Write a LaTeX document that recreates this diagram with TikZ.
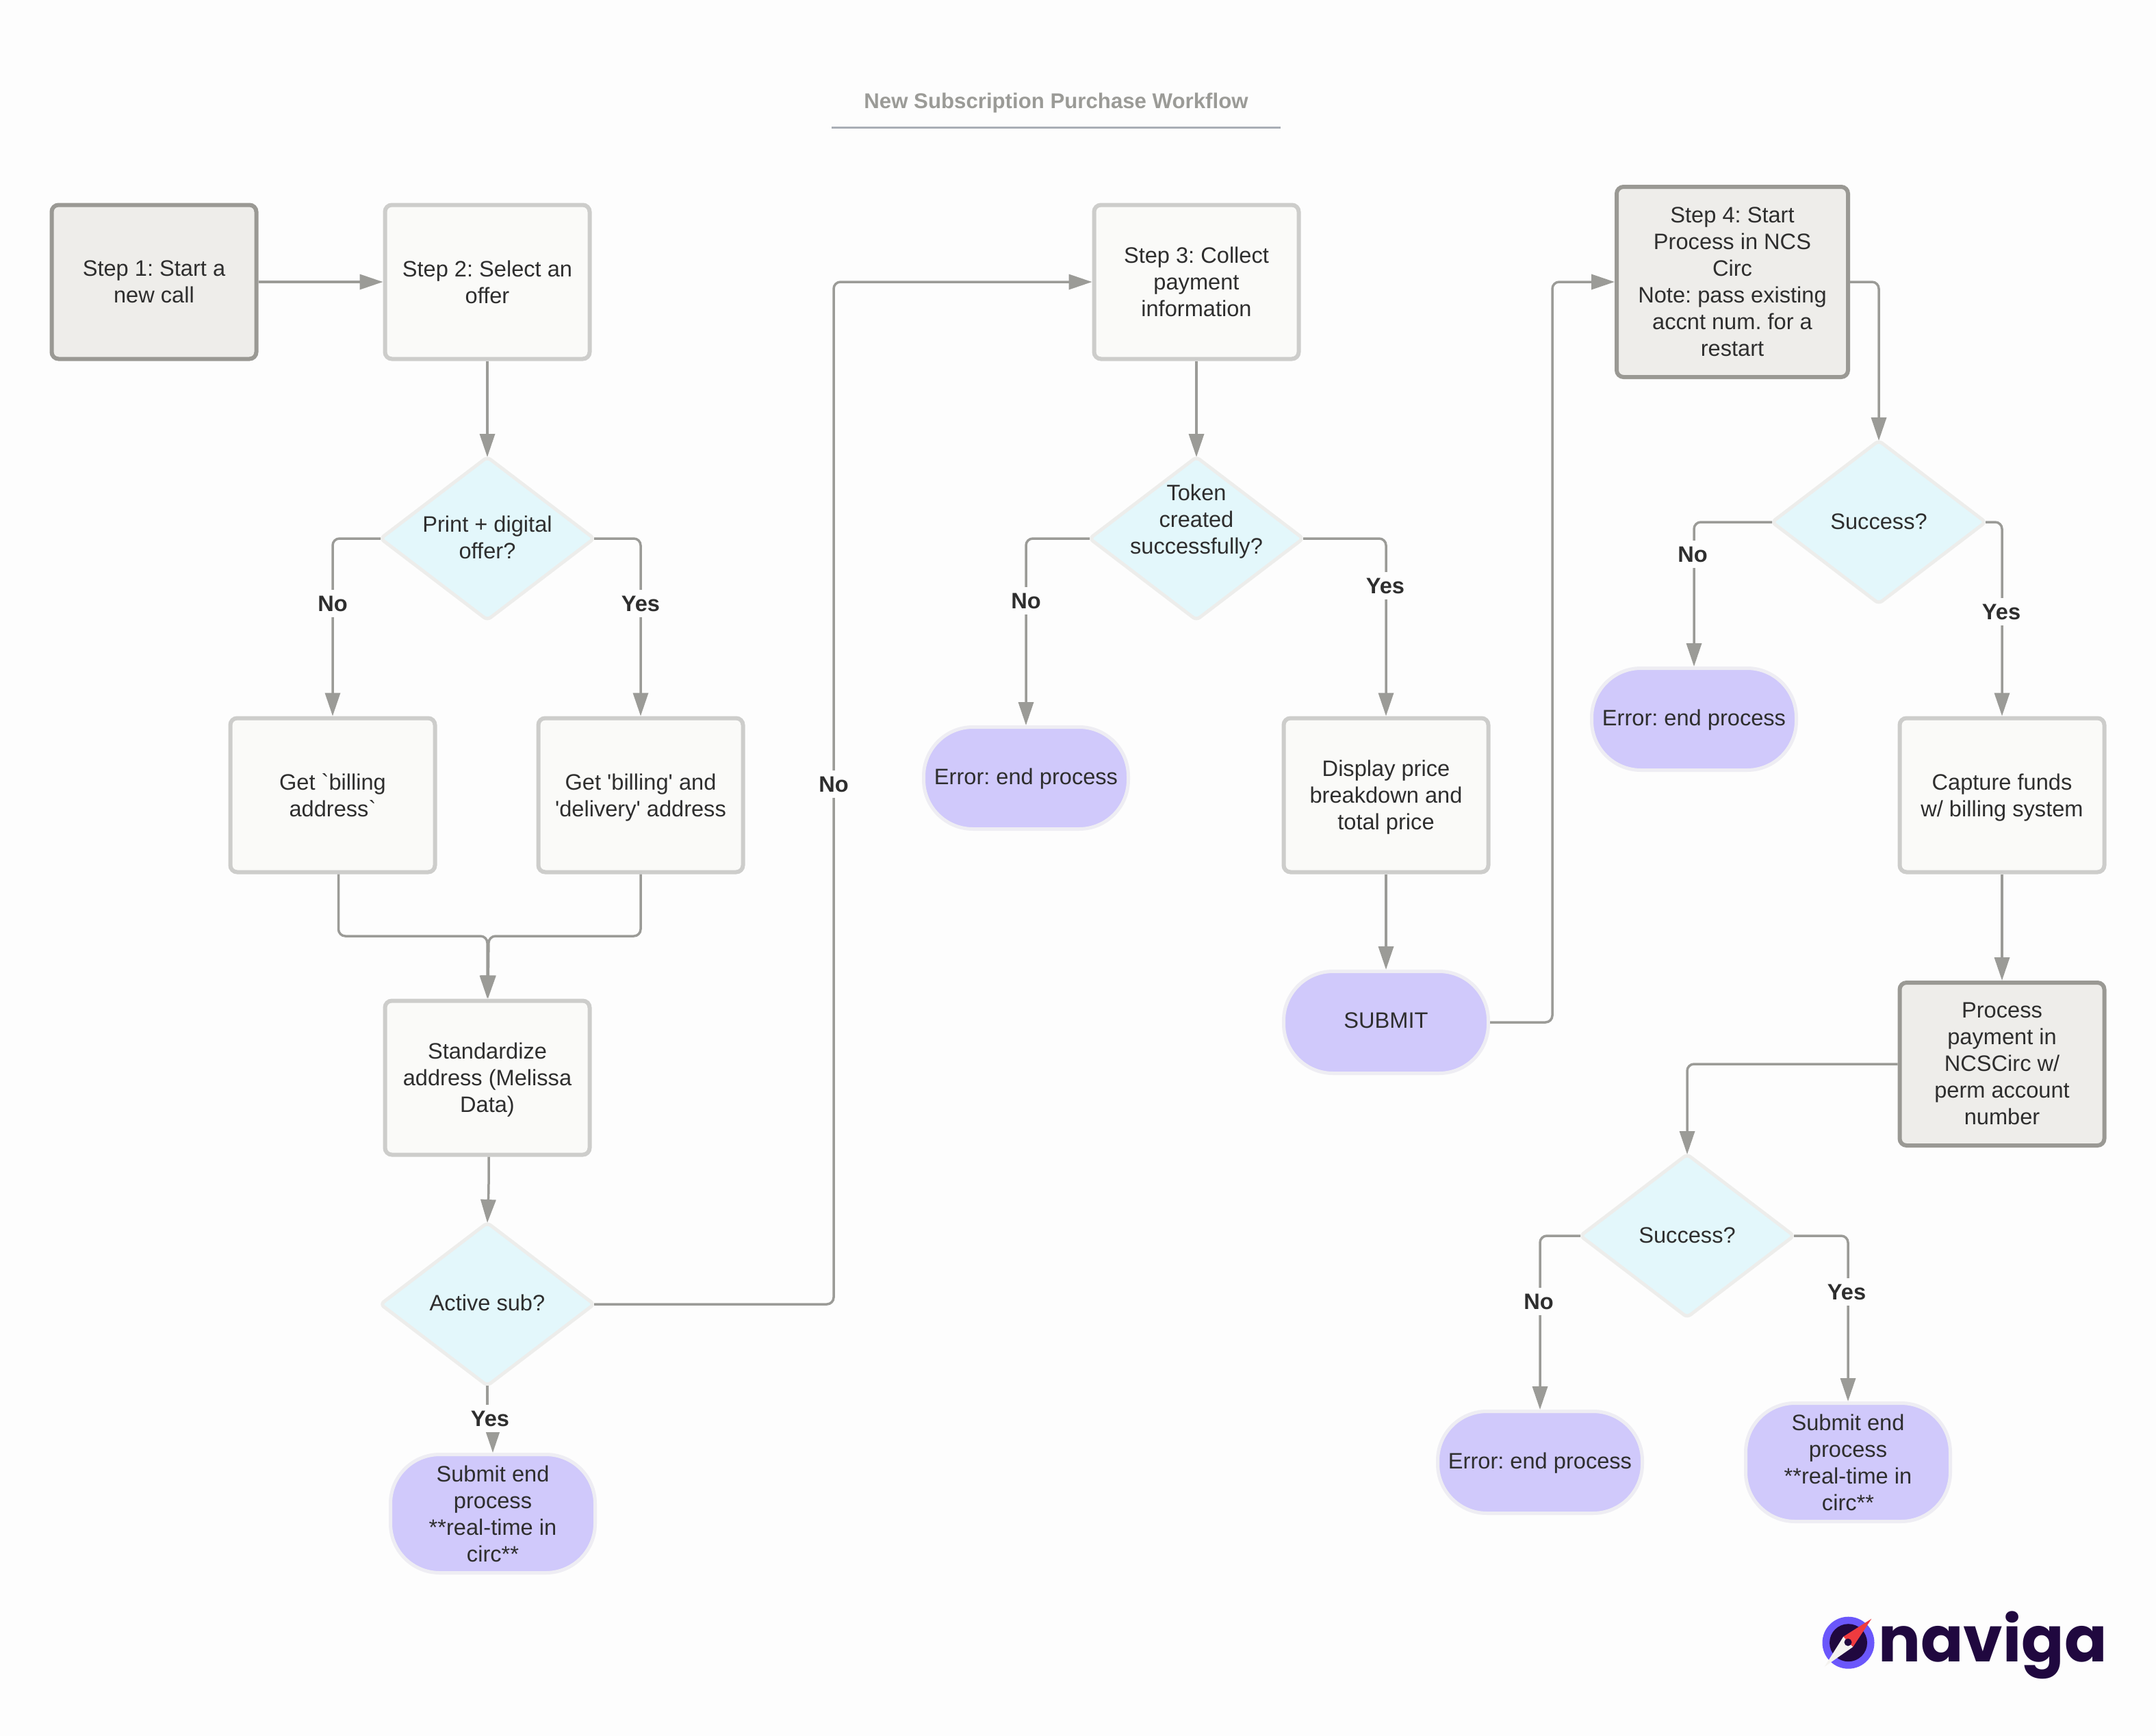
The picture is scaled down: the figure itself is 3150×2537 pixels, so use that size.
\documentclass[tikz,border=0pt]{standalone}
\usepackage{fontspec}
\usetikzlibrary{shapes.geometric,arrows.meta,calc}
\newfontfamily\wffont{Liberation Sans}
\newfontfamily\logofont{Poppins}
\definecolor{bgc}{HTML}{FDFDFD}
\definecolor{inkc}{HTML}{2E2E2E}
\definecolor{linec}{HTML}{9B9B97}
\definecolor{darkstroke}{HTML}{9A9994}
\definecolor{darkfill}{HTML}{EEEDEA}
\definecolor{lightstroke}{HTML}{CDCDCB}
\definecolor{lightfill}{HTML}{FAFAF8}
\definecolor{diastroke}{HTML}{EDEDEB}
\definecolor{diafill}{HTML}{E3F7FB}
\definecolor{pillstroke}{HTML}{EEEDF3}
\definecolor{pillfill}{HTML}{D0C9FB}
\definecolor{rulec}{HTML}{A9AEB6}
\definecolor{logodark}{HTML}{20083F}
\definecolor{logoring}{HTML}{6B57FB}
\definecolor{logored}{HTML}{EE3B3F}
\definecolor{logowhite}{HTML}{F4F3EF}
\frenchspacing
\tikzset{
  x=0.5pt,y=-0.5pt,
  txt/.style={font=\wffont\frenchspacing\fontsize{16.3}{19.5}\selectfont,text=inkc,align=center,inner sep=0pt,text depth=-0.15pt},
  lightbox/.style={txt,draw=lightstroke,fill=lightfill,line width=3pt,rounded corners=5pt,minimum width=149.5pt,minimum height=112.5pt},
  darkbox/.style={txt,draw=darkstroke,fill=darkfill,line width=3pt,rounded corners=5pt,minimum width=149.5pt,minimum height=112.5pt},
  pill/.style={txt,text depth=2pt,draw=pillstroke,fill=pillfill,line width=2.5pt,rounded corners=36pt,minimum width=149.5pt,minimum height=74.5pt},
  tallpill/.style={pill,text depth=-0.15pt,minimum height=86.5pt},
  decisionshape/.style={diamond,draw=diastroke,fill=diafill,line width=2.5pt,outer sep=0pt,rounded corners=3pt,inner sep=0pt,minimum width=156pt,minimum height=119pt},
  conn/.style={draw=linec,line width=1.75pt,rounded corners=5pt,-{Triangle[length=17pt,width=11pt]}},
  edgelabel/.style={font=\wffont\bfseries\fontsize{16.3}{19.5}\selectfont,text=inkc,fill=bgc,inner xsep=1pt,inner ysep=0pt,minimum height=20pt},
}
\begin{document}
\begin{tikzpicture}
\fill[bgc] (0,0) rectangle (3150,2537);
\useasboundingbox (0,0) rectangle (3150,2537);

% title
\node[font=\wffont\bfseries\fontsize{15.6}{19.5}\selectfont,text=linec,inner sep=0pt] (title) at (1543,150) {New Subscription Purchase Workflow};
\coordinate (ruleL) at (1215,187);
\coordinate (ruleR) at (1871,187);
\draw[rulec,line width=1.5pt] (ruleL) -- (ruleR);

% nodes
\node[darkbox] (s1) at (225,412) {Step 1: Start a\\new call};
\node[lightbox] (s2) at (712,412) {Step 2: Select an\\offer};
\node[decisionshape,label={[txt,text depth=1.85pt]center:Print + digital\\offer?}] (d1) at (712,787) {};
\node[lightbox] (bill) at (486,1162) {Get \char`\`billing\\address\char`\`};
\node[lightbox] (deliv) at (936,1162) {Get 'billing' and\\'delivery' address};
\node[lightbox,text depth=-5.15pt] (std) at (712,1575) {Standardize\\address (Melissa\\Data)};
\node[decisionshape,label={[txt,text depth=2pt]center:Active sub?}] (d2) at (712,1906) {};
\node[tallpill] (sub1) at (720,2212) {Submit end\\process\\**real-time in\\circ**};
\node[lightbox,text depth=-5.15pt] (s3) at (1748,412) {Step 3: Collect\\payment\\information};
\node[decisionshape,label={[txt,text depth=1.85pt,yshift=13pt]center:Token\\created\\successfully?}] (d3) at (1748,787) {};
\node[pill] (err1) at (1499,1137) {Error: end process};
\node[lightbox,text depth=-5.15pt] (disp) at (2025,1162) {Display price\\breakdown and\\total price};
\node[pill,text depth=3pt] (submit) at (2025,1494) {SUBMIT};
\node[darkbox,text depth=-1.15pt,minimum width=169pt,minimum height=139pt] (s4) at (2531,412) {Step 4: Start\\Process in NCS\\Circ\\Note: pass existing\\accnt num. for a\\restart};
\node[decisionshape,label={[txt,text depth=1pt]center:Success?}] (d4) at (2745,763) {};
\node[pill] (err2) at (2475,1051) {Error: end process};
\node[lightbox] (capt) at (2925,1162) {Capture funds\\w/ billing system};
\node[darkbox,text depth=0.85pt,minimum height=119pt] (proc) at (2925,1555) {Process\\payment in\\NCSCirc w/\\perm account\\number};
\node[decisionshape,label={[txt,text depth=1pt]center:Success?}] (d5) at (2465,1806) {};
\node[pill] (err3) at (2250,2137) {Error: end process};
\node[tallpill] (sub3) at (2700,2137) {Submit end\\process\\**real-time in\\circ**};

% connectors
\draw[conn] (s1.east) -- (s2.west);
\draw[conn] (s2.south) -- (d1.north);
\draw[conn] (d1.west) -| (bill.north);
\draw[conn] (d1.east) -| (deliv.north);
\draw[conn] ([xshift=4.25pt]bill.south) |- (712,1368) -- (std.north);
\draw[conn] (deliv.south) |- (714,1368) -- ([xshift=0.5pt]std.north);
\draw[conn] ([xshift=1pt]std.south) -- ++(0,49) -- (d2.north);
\draw[conn] (d2.east) -| (1218,412) -- (s3.west);
\draw[conn,rounded corners=0pt] (d2.south) -- (712,2073) -- (720,2073) -- (sub1.north);
\draw[conn] (s3.south) -- (d3.north);
\draw[conn] (d3.west) -| (err1.north);
\draw[conn] (d3.east) -| (disp.north);
\draw[conn] (disp.south) -- (submit.north);
\draw[conn] (submit.east) -| (2268,412) -- (s4.west);
\draw[conn] (s4.east) -| (d4.north);
\draw[conn] (d4.west) -| (err2.north);
\draw[conn] (d4.east) -| (capt.north);
\draw[conn] (capt.south) -- (proc.north);
\draw[conn] (proc.west) -| (d5.north);
\draw[conn] (d5.west) -| (err3.north);
\draw[conn] (d5.east) -| (sub3.north);

% connector labels
\node[edgelabel] (l1) at (486,882) {No};
\node[edgelabel] (l2) at (936,882) {Yes};
\node[edgelabel] (l3) at (1218,1146) {No};
\node[edgelabel] (l4) at (716,2073) {Yes};
\node[edgelabel] (l5) at (1499,878) {No};
\node[edgelabel] (l6) at (2024,856) {Yes};
\node[edgelabel] (l7) at (2473,810) {No};
\node[edgelabel] (l8) at (2924,894) {Yes};
\node[edgelabel] (l9) at (2248,1902) {No};
\node[edgelabel] (l10) at (2698,1888) {Yes};

% logo
\fill[logoring] (2700.5,2400.7) circle (38);
\fill[logodark] (2700.5,2400.7) circle (27.5);
\fill[logowhite] (2665.7,2435.7) -- (2693.3,2391.7) -- (2707.3,2406.7) -- cycle;
\fill[logored] (2734.3,2365.7) -- (2693.3,2391.7) -- (2707.3,2406.7) -- cycle;
\fill[logodark] (2700,2400) circle (5.5);
\node[anchor=base west,inner sep=0pt,text=logodark,font=\logofont\bfseries\fontsize{46}{46}\selectfont] (logotext) at (2744,2428) {naviga};
\end{tikzpicture}
\end{document}
